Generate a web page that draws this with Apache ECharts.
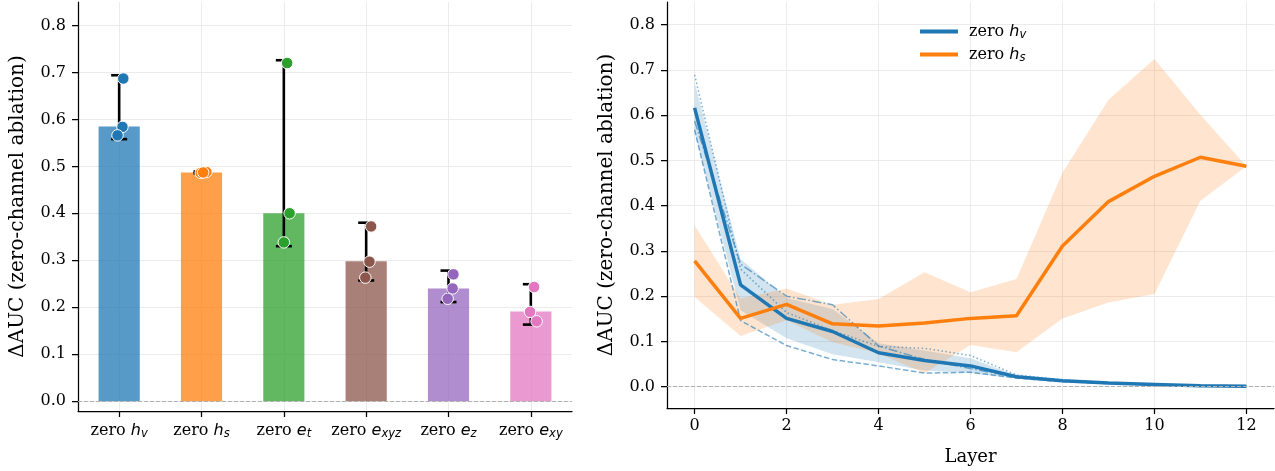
<!DOCTYPE html>
<html>
<head>
<meta charset="utf-8">
<script src="https://cdn.jsdelivr.net/npm/echarts@6/dist/echarts.min.js"></script>
<style>
html,body{margin:0;padding:0;background:#fff;}
#chart{width:1275px;height:471px;}
</style>
</head>
<body>
<div id="chart"></div>
<script>
// ---------- data (left panel) ----------
const catBase = ['h', 'h', 'e', 'e', 'e', 'e'];
const catSub = ['v', 's', 't', 'xyz', 'z', 'xy'];
const categories = ['zero h_v', 'zero h_s', 'zero e_t', 'zero e_xyz', 'zero e_z', 'zero e_xy'];
const categoryIndex = [0, 1, 2, 3, 4, 5];
const barValues = [0.585, 0.487, 0.400, 0.298, 0.240, 0.191];
const errLow = [0.558, 0.485, 0.330, 0.257, 0.211, 0.163];
const errHigh = [0.694, 0.489, 0.726, 0.380, 0.278, 0.249];
const pointsHv = [0.687, 0.584, 0.566];
const pointsHs = [0.486, 0.488, 0.487];
const pointsEt = [0.720, 0.400, 0.338];
const pointsExyz = [0.372, 0.297, 0.263];
const pointsEz = [0.270, 0.240, 0.218];
const pointsExy = [0.243, 0.190, 0.170];
const jitterHv = [0.05, 0.04, -0.02];
const jitterHs = [-0.01, 0.06, 0.02];
const jitterEt = [0.04, 0.07, 0.00];
const jitterExyz = [0.06, 0.04, -0.01];
const jitterEz = [0.06, 0.05, -0.01];
const jitterExy = [0.04, -0.01, 0.07];
const yTicks = [0, 0.1, 0.2, 0.3, 0.4, 0.5, 0.6, 0.7, 0.8];

// ---------- data (right panel) ----------
const layers = [0, 1, 2, 3, 4, 5, 6, 7, 8, 9, 10, 11, 12];
const layerTicks = [0, 2, 4, 6, 8, 10, 12];
const hvMean = [0.616, 0.225, 0.151, 0.122, 0.075, 0.058, 0.046, 0.022, 0.013, 0.008, 0.005, 0.002, 0.001];
const hvLow = [0.562, 0.169, 0.107, 0.072, 0.054, 0.036, 0.030, 0.019, 0.011, 0.007, 0.004, 0.001, 0.000];
const hvHigh = [0.672, 0.282, 0.196, 0.172, 0.096, 0.080, 0.063, 0.025, 0.015, 0.009, 0.006, 0.003, 0.002];
const hvSeedDotted = [0.689, 0.260, 0.164, 0.124, 0.089, 0.085, 0.069, 0.026, 0.015, 0.009, 0.006, 0.003, 0.001];
const hvSeedDashDot = [0.587, 0.271, 0.200, 0.181, 0.090, 0.060, 0.040, 0.021, 0.013, 0.008, 0.005, 0.002, 0.001];
const hvSeedDashed = [0.568, 0.146, 0.091, 0.060, 0.046, 0.030, 0.032, 0.019, 0.011, 0.007, 0.004, 0.001, 0.001];
const hsMean = [0.278, 0.151, 0.182, 0.139, 0.134, 0.141, 0.151, 0.157, 0.311, 0.409, 0.465, 0.507, 0.487];
const hsLow = [0.198, 0.112, 0.147, 0.098, 0.074, 0.030, 0.092, 0.076, 0.151, 0.186, 0.205, 0.411, 0.487];
const hsHigh = [0.357, 0.195, 0.217, 0.181, 0.194, 0.253, 0.209, 0.238, 0.473, 0.634, 0.724, 0.601, 0.487];

// ---------- styling ----------
const tab10 = ['#1f77b4', '#ff7f0e', '#2ca02c', '#8c564b', '#9467bd', '#e377c2'];
const SERIF = 'DejaVu Serif';
const MATH = 'DejaVu Sans';
const FS = 16;
const gridLine = { show: true, lineStyle: { color: '#ebebeb', width: 1 } };
const axLine = { show: true, onZero: false, lineStyle: { color: '#000', width: 1.25 } };
const axTick = (vals) => ({ show: true, length: 6, customValues: vals, lineStyle: { color: '#000', width: 1.25 } });
const richMath = {
  n: { fontFamily: SERIF, fontSize: FS, color: '#000', lineHeight: 20 },
  m: { fontFamily: MATH, fontStyle: 'italic', fontSize: FS, color: '#000', lineHeight: 20 },
  s: { fontFamily: MATH, fontStyle: 'italic', fontSize: 11.5, color: '#000', lineHeight: 14, padding: [7, 0, 0, 0] }
};
const richLegend = Object.assign({}, richMath, {
  n: Object.assign({}, richMath.n, { padding: [0, 0, 0, 6] })
});
function mathLabel(i) { return '{n|zero }{m|' + catBase[i] + '}{s|' + catSub[i] + '}'; }
const nameStyle = { fontFamily: SERIF, fontSize: 20, color: '#000' };

const pointSets = [pointsHv, pointsHs, pointsEt, pointsExyz, pointsEz, pointsExy];
const jitterSets = [jitterHv, jitterHs, jitterEt, jitterExyz, jitterEz, jitterExy];
const scatterData = [];
pointSets.forEach((arr, ci) => arr.forEach((v, k) => scatterData.push({ value: [ci + jitterSets[ci][k], v], itemStyle: { color: tab10[ci] } })));
const errData = categories.map((c, i) => [i, errLow[i], errHigh[i]]);

function bandSeries(low, high, color) {
  return {
    type: 'custom', xAxisIndex: 2, yAxisIndex: 1, data: [[0, 0]], silent: true, clip: true,
    renderItem(params, api) {
      const pts = [];
      layers.forEach((l, i) => pts.push(api.coord([l, high[i]])));
      for (let i = layers.length - 1; i >= 0; i--) pts.push(api.coord([layers[i], low[i]]));
      return { type: 'polygon', shape: { points: pts }, style: { fill: color } };
    }
  };
}
function seedSeries(vals, dash) {
  return {
    type: 'line', xAxisIndex: 2, yAxisIndex: 1, silent: true, showSymbol: false,
    data: layers.map((l, i) => [l, vals[i]]),
    lineStyle: { color: 'rgba(31,119,180,0.6)', width: 1.5, type: dash }
  };
}
const zeroLine = {
  silent: true, symbol: 'none', label: { show: false },
  lineStyle: { color: '#b0b0b0', width: 1.2, type: [4, 2] },
  data: [{ yAxis: 0 }]
};

const chart = echarts.init(document.getElementById('chart'), null, { renderer: 'canvas' });
chart.setOption({
  animation: false,
  backgroundColor: '#fff',
  grid: [
    { left: 78, right: 703, top: 2, bottom: 60, containLabel: false },
    { left: 667, right: 1, top: 2, bottom: 62, containLabel: false }
  ],
  legend: {
    left: 915, top: 17, orient: 'vertical', itemGap: 4,
    itemWidth: 38, itemHeight: 4, icon: 'rect',
    data: ['zero h_v', 'zero h_s'],
    formatter: (name) => name === 'zero h_v' ? '{n|zero }{m|h}{s|v}' : '{n|zero }{m|h}{s|s}',
    textStyle: { rich: richLegend }
  },
  xAxis: [
    {
      type: 'category', gridIndex: 0, data: categories,
      axisLine: axLine,
      axisTick: { show: true, length: 6, alignWithLabel: true, interval: 0, lineStyle: { color: '#000', width: 1.25 } },
      axisLabel: { interval: 0, margin: 10, formatter: (v, i) => mathLabel(i), rich: richMath },
      splitLine: { show: false }
    },
    {
      type: 'value', gridIndex: 0, min: -0.5, max: 5.5,
      axisLine: { show: false },
      axisTick: { show: false, customValues: categoryIndex },
      axisLabel: { show: false, customValues: categoryIndex },
      splitLine: gridLine
    },
    {
      type: 'value', gridIndex: 1, min: -0.6, max: 12.6,
      axisLine: axLine,
      axisTick: axTick(layerTicks),
      axisLabel: { customValues: layerTicks, margin: 10, fontFamily: SERIF, fontSize: FS, color: '#000' },
      splitLine: gridLine,
      name: 'Layer', nameLocation: 'middle', nameGap: 40,
      nameTextStyle: { fontFamily: SERIF, fontSize: 18, color: '#000' }
    }
  ],
  yAxis: [
    {
      type: 'value', gridIndex: 0, min: -0.021, max: 0.85,
      axisLine: axLine,
      axisTick: axTick(yTicks),
      axisLabel: { customValues: yTicks, margin: 12, formatter: (v) => v.toFixed(1), fontFamily: SERIF, fontSize: FS, color: '#000' },
      splitLine: gridLine,
      name: 'ΔAUC (zero-channel ablation)', nameLocation: 'middle', nameGap: 50,
      nameTextStyle: nameStyle
    },
    {
      type: 'value', gridIndex: 1, min: -0.047, max: 0.85,
      axisLine: axLine,
      axisTick: axTick(yTicks),
      axisLabel: { customValues: yTicks, margin: 12, formatter: (v) => v.toFixed(1), fontFamily: SERIF, fontSize: FS, color: '#000' },
      splitLine: gridLine,
      name: 'ΔAUC (zero-channel ablation)', nameLocation: 'middle', nameGap: 50,
      nameTextStyle: nameStyle
    }
  ],
  series: [
    {
      type: 'bar', xAxisIndex: 0, yAxisIndex: 0, barWidth: '50%', silent: true,
      data: barValues.map((v, i) => ({ value: v, itemStyle: { color: tab10[i], opacity: 0.75 } }))
    },
    {
      type: 'custom', xAxisIndex: 1, yAxisIndex: 0, silent: true, data: errData, z: 3,
      renderItem(params, api) {
        const x = api.value(0), lo = api.value(1), hi = api.value(2);
        const pLo = api.coord([x, lo]), pHi = api.coord([x, hi]);
        const cap = 8;
        const st = { stroke: '#000', lineWidth: 2.6 };
        return {
          type: 'group', children: [
            { type: 'line', shape: { x1: pLo[0], y1: pLo[1], x2: pHi[0], y2: pHi[1] }, style: st },
            { type: 'line', shape: { x1: pLo[0] - cap, y1: pLo[1], x2: pLo[0] + cap, y2: pLo[1] }, style: st },
            { type: 'line', shape: { x1: pHi[0] - cap, y1: pHi[1], x2: pHi[0] + cap, y2: pHi[1] }, style: st }
          ]
        };
      }
    },
    {
      type: 'scatter', xAxisIndex: 1, yAxisIndex: 0, silent: true, z: 4,
      symbolSize: 11.5, data: scatterData,
      itemStyle: { borderColor: '#fff', borderWidth: 1, opacity: 1 },
      markLine: zeroLine
    },
    bandSeries(hvLow, hvHigh, 'rgba(31,119,180,0.2)'),
    seedSeries(hvSeedDotted, [1.5, 2.5]),
    seedSeries(hvSeedDashDot, [9, 2.5, 1.5, 2.5]),
    seedSeries(hvSeedDashed, [5.5, 2.5]),
    {
      name: 'zero h_v', type: 'line', xAxisIndex: 2, yAxisIndex: 1, silent: true, showSymbol: false,
      data: layers.map((l, i) => [l, hvMean[i]]),
      itemStyle: { color: '#1f77b4' },
      lineStyle: { color: '#1f77b4', width: 3.5 },
      markLine: zeroLine
    },
    bandSeries(hsLow, hsHigh, 'rgba(255,127,14,0.2)'),
    {
      name: 'zero h_s', type: 'line', xAxisIndex: 2, yAxisIndex: 1, silent: true, showSymbol: false,
      data: layers.map((l, i) => [l, hsMean[i]]),
      itemStyle: { color: '#ff7f0e' },
      lineStyle: { color: '#ff7f0e', width: 3.5 }
    }
  ]
});
</script>
</body>
</html>
